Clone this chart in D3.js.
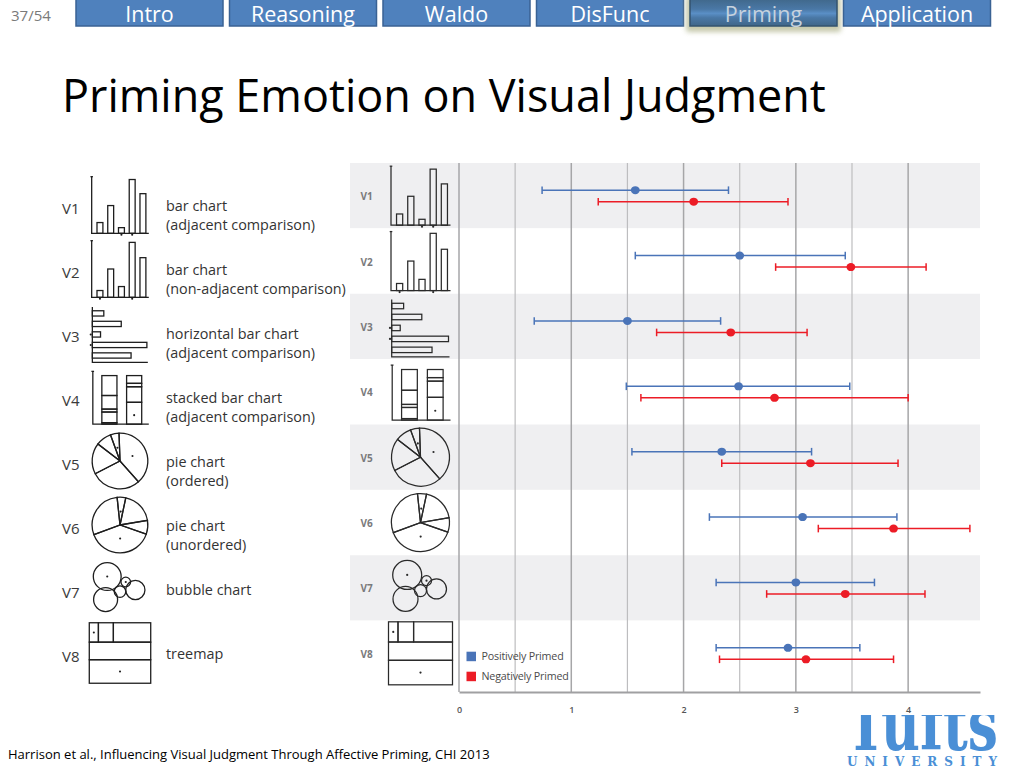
<!DOCTYPE html>
<html><head><meta charset="utf-8">
<script src="https://cdn.jsdelivr.net/npm/d3@7"></script>
<style>body{margin:0;background:#fff;} svg{display:block}</style>
</head><body><svg id="c" width="1024" height="768"></svg>
<script>
// ---------------- data ----------------
const slideNo = "37/54";
const navItems = ["Intro","Reasoning","Waldo","DisFunc","Priming","Application"];
const activeNav = "Priming";
const title = "Priming Emotion on Visual Judgment";
const citation = "Harrison et al., Influencing Visual Judgment Through Affective Priming, CHI 2013";

const categories = ["V1","V2","V3","V4","V5","V6","V7","V8"];
const descriptions = [
  ["bar chart","(adjacent comparison)"],
  ["bar chart","(non-adjacent comparison)"],
  ["horizontal bar chart","(adjacent comparison)"],
  ["stacked bar chart","(adjacent comparison)"],
  ["pie chart","(ordered)"],
  ["pie chart","(unordered)"],
  ["bubble chart"],
  ["treemap"]
];
const iconTypes = ["bar","bar2","hbar","stack","pie","pie2","bubble","treemap"];

const seriesNames = ["Positively Primed","Negatively Primed"];
const posMean = [1.57, 2.50, 1.50, 2.49, 2.34, 3.06, 3.00, 2.93];
const posLow  = [0.74, 1.57, 0.67, 1.49, 1.54, 2.23, 2.29, 2.29];
const posHigh = [2.40, 3.44, 2.33, 3.48, 3.14, 3.90, 3.70, 3.57];
const negMean = [2.09, 3.49, 2.42, 2.81, 3.13, 3.87, 3.44, 3.09];
const negLow  = [1.24, 2.82, 1.76, 1.62, 2.34, 3.20, 2.74, 2.32];
const negHigh = [2.93, 4.16, 3.10, 4.00, 3.91, 4.55, 4.15, 3.87];
const xTicks = [0, 1, 2, 3, 4];
const xMax = 4.64;

// icon glyph values (the little stimulus pictures)
const barIconV1 = [0.19, 0.49, 0.10, 0.95, 0.70];
const barMarksV1 = [2, 3];
const barIconV2 = [0.12, 0.50, 0.19, 0.97, 0.70];
const barMarksV2 = [0, 3];
const hbarIcon = [0.21, 0.53, 0.15, 1.0, 0.71];
const hbarMarks = [2, 3];
const stackIconA = [0.03, 0.22, 0.06, 0.28, 0.41];
const stackIconB = [0.45, 0.32, 0.07, 0.16];
const pieOrdered = [39, 29, 18, 9, 5];
const pieOrderedMarks = [0, 4];
const pieUnordered = [5, 19, 8, 39, 29];
const pieUnorderedMarks = [0, 3];
const treemapRows = [[192, 315, 786], [1171], [1568]];

// ---------------- drawing ----------------
const svg = d3.select("#c");
const SANS = "'Open Sans', 'Noto Sans', sans-serif";

function fitWidth(sel, w){
  const n = sel.node();
  const fs = parseFloat(sel.attr("font-size"));
  const cw = n.getComputedTextLength();
  if (cw > 0) sel.attr("font-size", fs * w / cw);
  return parseFloat(sel.attr("font-size"));
}

// ---- nav bar ----
const nav = d3.scaleBand().domain(navItems).range([76, 990.5]).paddingInner(0.0423);
const defs = svg.append("defs");
const glow = defs.append("filter").attr("id","glow").attr("x","-20%").attr("y","-40%").attr("width","140%").attr("height","200%");
glow.append("feGaussianBlur").attr("stdDeviation", 2.5);
const stripe = defs.append("linearGradient").attr("id","stripe").attr("x1",0).attr("y1",0).attr("x2",0).attr("y2",1);
stripe.append("stop").attr("offset","0%").attr("stop-color","#3f6688");
stripe.append("stop").attr("offset","40%").attr("stop-color","#4a78a6");
stripe.append("stop").attr("offset","55%").attr("stop-color","#5a8fc6");
stripe.append("stop").attr("offset","70%").attr("stop-color","#4a78a6");
stripe.append("stop").attr("offset","100%").attr("stop-color","#3f6688");

svg.append("text").attr("x", 11).attr("y", 21).attr("font-family", SANS).attr("font-size", 14)
  .attr("fill", "#7a7a7a").text(slideNo).call(s => fitWidth(s, 40));

const navG = svg.append("g").selectAll("g").data(navItems).join("g");
navG.filter(d => d === activeNav).append("rect")
  .attr("x", d => nav(d) - 4).attr("y", -4).attr("width", nav.bandwidth() + 8).attr("height", 36)
  .attr("rx", 3).attr("fill", "#b8bc98").attr("opacity", 0.8).attr("filter", "url(#glow)");
navG.append("rect")
  .attr("x", d => nav(d)).attr("y", -2).attr("width", nav.bandwidth()).attr("height", 28)
  .attr("fill", d => d === activeNav ? "url(#stripe)" : "#4f81bd")
  .attr("stroke", d => d === activeNav ? "#33536e" : "#3a6294").attr("stroke-width", 1.5);
let navFs = 20;
navG.append("text").attr("x", d => nav(d) + nav.bandwidth()/2).attr("y", 21.5)
  .attr("text-anchor", "middle").attr("font-family", SANS).attr("font-size", 20)
  .attr("fill", d => d === activeNav ? "#c6d2de" : "#ffffff").text(d => d)
  .each(function(d){ if (d === "Reasoning") navFs = fitWidth(d3.select(this), 104); });
navG.selectAll("text").attr("font-size", navFs);

// ---- title & footer ----
svg.append("text").attr("x", 62).attr("y", 112).attr("font-family", SANS).attr("font-size", 44)
  .attr("fill", "#000").text(title).call(s => fitWidth(s, 764));
svg.append("text").attr("x", 8).attr("y", 759).attr("font-family", SANS).attr("font-size", 15)
  .attr("fill", "#000").text(citation).call(s => fitWidth(s, 482));

// ---- Tufts logo ----
defs.append("clipPath").attr("id","logoclip").append("rect").attr("x", 820).attr("y", 715).attr("width", 204).attr("height", 60);
svg.append("text").attr("x", 846).attr("y", 750).attr("font-family", "'DejaVu Serif', serif").attr("font-weight", 700)
  .attr("font-size", 72).attr("fill", "#4a8fd6").attr("clip-path", "url(#logoclip)")
  .attr("textLength", 152).attr("lengthAdjust", "spacingAndGlyphs").text("Tufts");
svg.append("text").attr("x", 847).attr("y", 766).attr("font-family", "'DejaVu Serif', serif").attr("font-weight", 700)
  .attr("font-size", 12).attr("fill", "#4a8fd6")
  .attr("textLength", 150).attr("lengthAdjust", "spacing").text("UNIVERSITY");

// ---- icon drawing ----
function drawIcon(g, type, stroke, sw){
  const st = sel => sel.attr("fill","none").attr("stroke", stroke).attr("stroke-width", sw);
  const dot = (x, y) => g.append("circle").attr("cx", x).attr("cy", y).attr("r", 1.1).attr("fill", stroke);
  if (type === "bar" || type === "bar2"){
    const vals = type === "bar" ? barIconV1 : barIconV2;
    const marks = type === "bar" ? barMarksV1 : barMarksV2;
    const bx = d3.scaleBand().domain(d3.range(vals.length)).range([1, 62]).paddingInner(0.45).paddingOuter(0.45);
    const by = d3.scaleLinear().domain([0, 1]).range([59.5, 0.5]);
    g.append("path").attr("d", "M0.5,0.5V59.5H60").call(st);
    g.append("path").attr("d", "M-0.8,0.5H1.8").call(st);
    g.selectAll("rect.bi").data(vals).join("rect").attr("class","bi")
      .attr("x", (d,i) => bx(i)).attr("y", d => by(d)).attr("width", bx.bandwidth())
      .attr("height", d => by(0) - by(d)).call(st);
    marks.forEach(i => dot(bx(i) + bx.bandwidth()/2, 61));
  } else if (type === "hbar"){
    const hy = d3.scaleBand().domain(d3.range(hbarIcon.length)).range([3, 60]).paddingInner(0.5).paddingOuter(0.35);
    const hx = d3.scaleLinear().domain([0, 1]).range([1.2, 58]);
    g.append("path").attr("d", "M1.2,3V60.5H59").call(st);
    g.selectAll("rect.hb").data(hbarIcon).join("rect").attr("class","hb")
      .attr("x", hx(0)).attr("y", (d,i) => hy(i)).attr("width", d => hx(d) - hx(0))
      .attr("height", hy.bandwidth()).call(st);
    hbarMarks.forEach(i => dot(-0.5, hy(i) + hy.bandwidth()/2));
  } else if (type === "stack"){
    const sx = d3.scaleBand().domain([0, 1]).range([0, 63.7]).paddingInner(0.39).paddingOuter(0.43);
    const sy = d3.scaleLinear().domain([0, 1]).range([58.3, 7.7]);
    g.append("path").attr("d", "M1.7,3.3V58.3H60").call(st);
    g.append("path").attr("d", "M0.2,3.3H3").call(st);
    [stackIconA, stackIconB].forEach((vals, k) => {
      let acc = 0;
      vals.forEach(v => {
        g.append("rect").attr("x", sx(k)).attr("width", sx.bandwidth())
          .attr("y", sy(acc + v)).attr("height", sy(acc) - sy(acc + v)).call(st);
        acc += v;
      });
    });
    dot(sx(1) + sx.bandwidth()/2, sy(stackIconB[0]/2) + 2);
  } else if (type === "pie" || type === "pie2"){
    const vals = type === "pie" ? pieOrdered : pieUnordered;
    const marks = type === "pie" ? pieOrderedMarks : pieUnorderedMarks;
    const start = (type === "pie" ? -2 : -6) * Math.PI / 180;
    const arcs = d3.pie().sort(null).startAngle(start).endAngle(start + 2*Math.PI)(vals);
    const arc = d3.arc().innerRadius(0).outerRadius(29);
    const cg = g.append("g").attr("transform", "translate(30,30)");
    cg.selectAll("path").data(arcs).join("path").attr("d", arc).call(st);
    const mid = d3.arc().innerRadius(14).outerRadius(14);
    marks.forEach(i => { const c = mid.centroid(arcs[i]); dot(30 + c[0], 30 + c[1]); });
  } else if (type === "bubble"){
    const bubbles = [[16.7,17,14.5,1],[15,41,12.5,0],[46,31,10,0],[30,32.7,6,0],[36,22.7,5,1]];
    g.selectAll("circle.bb").data(bubbles).join("circle").attr("class","bb")
      .attr("cx", d => d[0]).attr("cy", d => d[1]).attr("r", d => d[2]).call(st);
    bubbles.filter(d => d[3]).forEach(d => dot(d[0], d[1]));
  } else if (type === "treemap"){
    const root = d3.hierarchy({children: treemapRows.map(r => ({children: r.map(v => ({value: v}))}))})
      .sum(d => d.value || 0);
    d3.treemap().size([64, 63]).round(false)
      .tile((node, x0, y0, x1, y1) => node.depth === 0 ? d3.treemapSlice(node, x0, y0, x1, y1) : d3.treemapDice(node, x0, y0, x1, y1))(root);
    const tg = g.append("g").attr("transform", "translate(-2,-1.5)");
    tg.selectAll("rect").data(root.leaves()).join("rect")
      .attr("x", d => d.x0).attr("y", d => d.y0).attr("width", d => d.x1 - d.x0).attr("height", d => d.y1 - d.y0).call(st);
    const L = root.leaves();
    [L[0], L[4]].forEach(d => dot(-2 + (d.x0 + d.x1)/2, -1.5 + (d.y0 + d.y1)/2));
  }
}

// ---- left panel ----
const leftY = d3.scaleBand().domain(categories).range([173, 685]);
const leftG = svg.append("g");
categories.forEach((c, i) => {
  const cy = leftY(c) + leftY.bandwidth()/2;
  const base = cy + 9;
  leftG.append("text").attr("x", 62).attr("y", base).attr("font-family", SANS).attr("font-size", 15)
    .attr("fill", "#3a3a3a").text(c);
  const ig = leftG.append("g").attr("transform", `translate(${120 - 30*0.96},${cy - 30*0.96}) scale(0.96)`);
  drawIcon(ig, iconTypes[i], "#1e1e1e", 1.35);
  descriptions[i].forEach((line, j) => {
    leftG.append("text").attr("class", "desc").attr("x", 166).attr("y", base - 3 + j*19)
      .attr("font-family", SANS).attr("font-size", 14).attr("fill", "#333").text(line);
  });
});
// fit description font to reference width
let descFs = 14;
leftG.selectAll("text.desc").filter(function(){ return d3.select(this).text() === "(non-adjacent comparison)"; })
  .each(function(){ descFs = fitWidth(d3.select(this), 180); });
leftG.selectAll("text.desc").attr("font-size", descFs);

// ---- chart panel ----
const x = d3.scaleLinear().domain([0, xMax]).range([459, 980]);
const y = d3.scaleBand().domain(categories).range([163, 686]);
const axisY = 692;
const chart = svg.append("g");

chart.selectAll("rect.band").data(categories).join("rect").attr("class","band")
  .attr("x", 350).attr("y", d => y(d)).attr("width", x(xMax) - 350).attr("height", y.bandwidth())
  .attr("fill", (d,i) => i % 2 === 0 ? "#efeff1" : "#ffffff");

const grid = d3.range(0, 4.01, 0.5);
chart.selectAll("line.grid").data(grid).join("line").attr("class","grid")
  .attr("x1", d => x(d)).attr("x2", d => x(d)).attr("y1", y.range()[0]).attr("y2", axisY)
  .attr("stroke", d => Number.isInteger(d) ? "#a6a6a8" : "#bdbdbf")
  .attr("stroke-width", d => Number.isInteger(d) ? 1.5 : 1.2);

const axis = d3.axisBottom(x).tickValues(xTicks).tickSize(0).tickSizeOuter(0).tickPadding(15).tickFormat(d3.format("d"));
const ag = chart.append("g").attr("transform", `translate(0,${axisY})`).call(axis);
ag.select(".domain").attr("stroke", "#a0a0a2").attr("stroke-width", 2);
ag.selectAll("text").attr("font-family", SANS).attr("font-size", 9).attr("font-weight", 600).attr("fill", "#555");

// row labels & icons
categories.forEach((c, i) => {
  const cy = y(c) + y.bandwidth()/2;
  chart.append("text").attr("x", 360.5).attr("y", cy + 4.5).attr("font-family", SANS).attr("font-size", 10)
    .attr("font-weight", 700).attr("fill", "#7a7a7c").text(c);
  const ig = chart.append("g").attr("transform", `translate(${420.5 - 30},${cy - 30})`);
  drawIcon(ig, iconTypes[i], "#2a2a2a", 1.25);
});

// error bars
const series = [
  {name: seriesNames[0], mean: posMean, low: posLow, high: posHigh, color: "#4a74b8", dy: -5.5},
  {name: seriesNames[1], mean: negMean, low: negLow, high: negHigh, color: "#ec1c26", dy: 6}
];
series.forEach(s => {
  const sg = chart.append("g");
  categories.forEach((c, i) => {
    const yy = y(c) + y.bandwidth()/2 + s.dy;
    sg.append("line").attr("x1", x(s.low[i])).attr("x2", x(s.high[i])).attr("y1", yy).attr("y2", yy)
      .attr("stroke", s.color).attr("stroke-width", 1.4);
    [s.low[i], s.high[i]].forEach(v => sg.append("line").attr("x1", x(v)).attr("x2", x(v))
      .attr("y1", yy - 3.8).attr("y2", yy + 3.8).attr("stroke", s.color).attr("stroke-width", 1.5));
    sg.append("ellipse").attr("cx", x(s.mean[i])).attr("cy", yy).attr("rx", 4.4).attr("ry", 4).attr("fill", s.color);
  });
});

// legend
const lg = chart.append("g");
let legFs = 10;
series.forEach((s, k) => {
  lg.append("rect").attr("x", 466.5).attr("y", 651.7 + k*20).attr("width", 9.5).attr("height", 9.5).attr("fill", s.color);
  const t = lg.append("text").attr("x", 481.5).attr("y", 659.8 + k*20).attr("font-family", SANS)
    .attr("font-size", 10).attr("fill", "#4a4a4a").attr("letter-spacing", -0.2).text(s.name);
  if (k === 1) legFs = fitWidth(t, 87);
});
lg.selectAll("text").attr("font-size", legFs);
</script></body></html>
